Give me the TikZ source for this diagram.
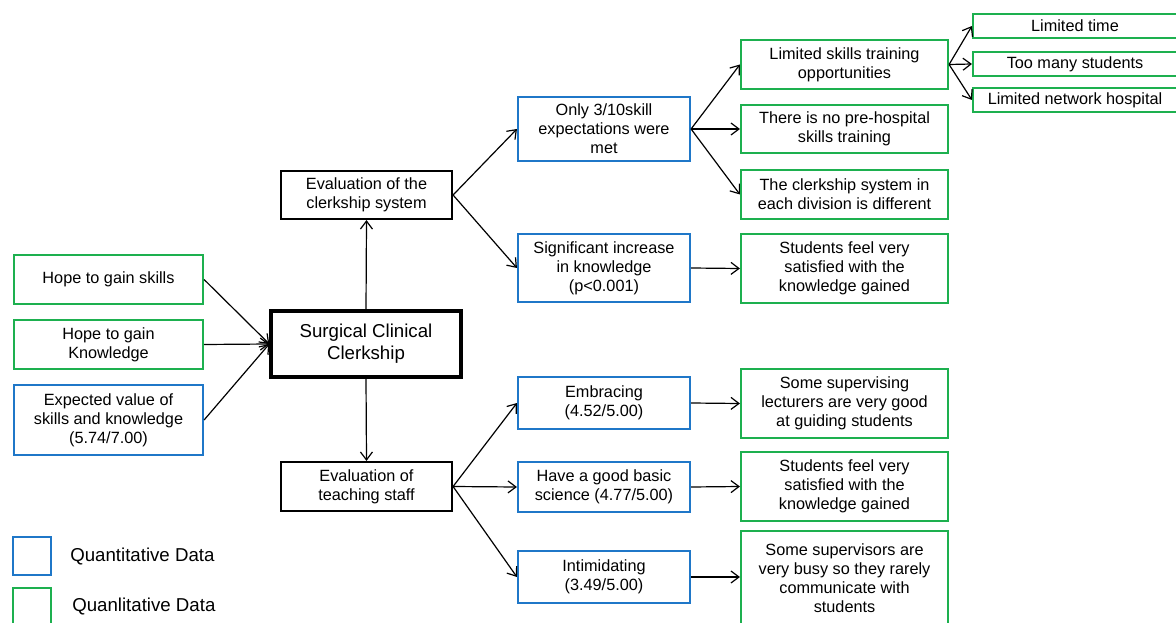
\documentclass[tikz,border=0pt]{standalone}
\usepackage{fontspec}
\setmainfont{Liberation Sans}
\usetikzlibrary{arrows.meta}
\definecolor{qblue}{HTML}{1F77C8}
\definecolor{qgreen}{HTML}{1DB04F}
\begin{document}
\begin{tikzpicture}[x=0.75pt,y=-0.75pt,
  sz/.style 2 args={minimum width=#1*0.75pt, minimum height=#2*0.75pt},
  box/.style={draw, rectangle, inner sep=0pt, align=center,
    font=\fontsize{12.2}{14.3}\selectfont, text=black},
  bluebox/.style={box, draw=qblue, line width=1.6pt},
  greenbox/.style={box, draw=qgreen, line width=1.6pt},
  blackbox/.style={box, draw=black, line width=1.6pt},
  mainbox/.style={box, draw=black, line width=2.6pt, font=\fontsize{14}{16.5}\selectfont},
  conn/.style={line width=0.9pt, -{Straight Barb[length=6pt,width=9pt,line width=0.9pt]}},
  legtext/.style={anchor=west, inner sep=0pt, font=\fontsize{14}{16}\selectfont}]
\useasboundingbox (0,0) rectangle (1176,623);
\fill[white] (0,0) rectangle (1176,623);

% left inputs
\node[greenbox, sz={189}{49}] (hs) at (108.5,279.5) {Hope to gain skills};
\node[greenbox, sz={189}{49}] (hk) at (108.5,344.5) {Hope to gain\\Knowledge};
\node[bluebox, sz={189}{70}] (ev) at (108.5,420) {Expected value of\\skills and knowledge\\(5.74/7.00)};

% center
\node[mainbox, sz={190}{66}] (sc) at (366,344) {Surgical Clinical\\Clerkship};
\node[blackbox, sz={171}{48}] (ec) at (366.5,195) {Evaluation of the\\clerkship system};
\node[blackbox, sz={171}{49}] (et) at (366.5,486.5) {Evaluation of\\teaching staff};

% upper branch
\node[bluebox, sz={172}{64}] (o3) at (604,129) {Only 3/10skill\\expectations were\\met};
\node[bluebox, sz={172}{68}] (si) at (604,268) {Significant increase\\in knowledge\\(p<0.001)};
\node[greenbox, sz={207}{49}] (ls) at (844.5,64.5) {Limited skills training\\opportunities};
\node[greenbox, sz={207}{48}] (np) at (844.5,129) {There is no pre-hospital\\skills training};
\node[greenbox, sz={207}{49}] (cs) at (844.5,194.5) {The clerkship system in\\each division is different};
\node[greenbox, sz={207}{69}] (sf1) at (844.5,268.5) {Students feel very\\satisfied with the\\knowledge gained};
\node[greenbox, sz={204}{24}] (lt) at (1075,26) {Limited time};
\node[greenbox, sz={204}{24}] (tm) at (1075,64) {Too many students};
\node[greenbox, sz={204}{24}] (ln) at (1075,100) {Limited network hospital};

% lower branch
\node[bluebox, sz={172}{52}] (em) at (604,403) {Embracing\\(4.52/5.00)};
\node[bluebox, sz={172}{50}] (hg) at (604,487) {Have a good basic\\science (4.77/5.00)};
\node[bluebox, sz={172}{52}] (im) at (604,577) {Intimidating\\(3.49/5.00)};
\node[greenbox, sz={207}{69}] (sl) at (844.5,403.5) {Some supervising\\lecturers are very good\\at guiding students};
\node[greenbox, sz={207}{69}] (sf2) at (844.5,486.5) {Students feel very\\satisfied with the\\knowledge gained};
\node[greenbox, sz={207}{95}] (sb) at (844.5,578.5) {Some supervisors are\\very busy so they rarely\\communicate with\\students};

% legend
\node[draw=qblue, line width=1.6pt, sz={38}{38}, inner sep=0pt] (lq) at (32,556) {};
\node[draw=qgreen, line width=1.6pt, sz={38}{38}, inner sep=0pt] (lg) at (32,607) {};
\node[legtext] (lqt) at (70,556) {Quantitative Data};
\node[legtext] (lgt) at (72,606) {Quanlitative Data};

% connectors
\draw[conn] (hs.east) -- (sc.west);
\draw[conn] (hk.east) -- (sc.west);
\draw[conn] (ev.east) -- (sc.west);
\draw[conn] (sc.north) -- (ec.south);
\draw[conn] (sc.south) -- (et.north);
\draw[conn] (ec.east) -- (o3.west);
\draw[conn] (ec.east) -- (si.west);
\draw[conn] (o3.east) -- (ls.west);
\draw[conn] (o3.east) -- (np.west);
\draw[conn] (o3.east) -- (cs.west);
\draw[conn] (ls.east) -- (lt.west);
\draw[conn] (ls.east) -- (tm.west);
\draw[conn] (ls.east) -- (ln.west);
\draw[conn] (si.east) -- (sf1.west);
\draw[conn] (et.east) -- (em.west);
\draw[conn] (et.east) -- (hg.west);
\draw[conn] (et.east) -- (im.west);
\draw[conn] (em.east) -- (sl.west);
\draw[conn] (hg.east) -- (sf2.west);
\draw[conn] (im.east) -- (sb.west |- im.east);
\end{tikzpicture}
\end{document}
